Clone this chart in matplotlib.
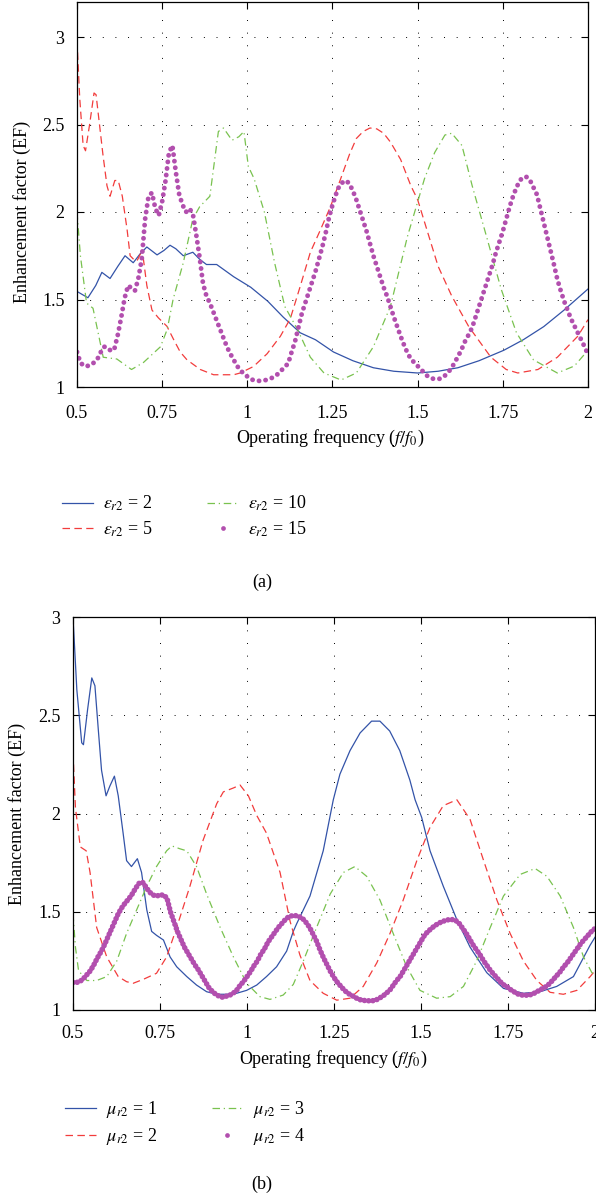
import matplotlib
matplotlib.use('Agg')
import matplotlib.pyplot as plt
from matplotlib.lines import Line2D

plt.rcParams['font.family'] = ['Liberation Serif', 'DejaVu Serif']
plt.rcParams['mathtext.fontset'] = 'stix'

# ---- panel (a): permittivity sweep ----
f_eps2 = [0.5, 0.532, 0.555, 0.573, 0.597, 0.62, 0.641, 0.665, 0.685, 0.705, 0.735, 0.755,
          0.773, 0.79, 0.812, 0.84, 0.86, 0.88, 0.91, 0.96, 1.01, 1.06, 1.105, 1.155, 1.2,
          1.253, 1.31, 1.37, 1.43, 1.5, 1.56, 1.618, 1.68, 1.753, 1.81, 1.87, 1.93, 2.0]
ef_eps2 = [1.546, 1.51, 1.58, 1.655, 1.62, 1.69, 1.75, 1.71, 1.76, 1.80, 1.755, 1.78,
           1.81, 1.79, 1.75, 1.77, 1.73, 1.70, 1.70, 1.63, 1.57, 1.49, 1.40, 1.31, 1.27,
           1.20, 1.15, 1.11, 1.09, 1.08, 1.09, 1.11, 1.15, 1.21, 1.27, 1.345, 1.44, 1.56]

f_eps5 = [0.5, 0.508, 0.518, 0.525, 0.537, 0.55, 0.556, 0.566, 0.576, 0.588, 0.597, 0.611,
          0.621, 0.633, 0.647, 0.656, 0.666, 0.676, 0.686, 0.695, 0.705, 0.72, 0.739, 0.764,
          0.784, 0.803, 0.823, 0.862, 0.901, 0.96, 0.979, 1.018, 1.058, 1.097, 1.126, 1.156,
          1.185, 1.215, 1.244, 1.274, 1.3, 1.32, 1.34, 1.36, 1.38, 1.4, 1.42, 1.45, 1.48,
          1.5, 1.53, 1.56, 1.6, 1.65, 1.715, 1.76, 1.794, 1.853, 1.91, 1.97, 2.0]
ef_eps5 = [2.98, 2.65, 2.38, 2.35, 2.50, 2.68, 2.67, 2.50, 2.33, 2.15, 2.09, 2.18,
           2.18, 2.09, 1.90, 1.75, 1.73, 1.72, 1.76, 1.73, 1.58, 1.44, 1.395, 1.347,
           1.27, 1.20, 1.155, 1.10, 1.07, 1.07, 1.08, 1.117, 1.19, 1.29, 1.39, 1.58,
           1.77, 1.90, 2.03, 2.19, 2.33, 2.42, 2.46, 2.48, 2.475, 2.45, 2.40, 2.30, 2.15,
           2.07, 1.88, 1.69, 1.52, 1.345, 1.17, 1.10, 1.08, 1.10, 1.17, 1.29, 1.385]

f_eps10 = [0.5, 0.51, 0.528, 0.547, 0.577, 0.617, 0.66, 0.695, 0.745, 0.765, 0.782, 0.812,
           0.84, 0.86, 0.89, 0.915, 0.93, 0.955, 0.975, 0.99, 1.003, 1.02, 1.05, 1.08, 1.11,
           1.147, 1.185, 1.225, 1.275, 1.32, 1.37, 1.42, 1.47, 1.52, 1.55, 1.58, 1.60, 1.63,
           1.66, 1.705, 1.745, 1.79, 1.84, 1.91, 1.96, 2.0]
ef_eps10 = [2.0, 1.75, 1.48, 1.45, 1.17, 1.16, 1.10, 1.14, 1.23, 1.33, 1.50, 1.71,
            1.96, 2.03, 2.09, 2.46, 2.48, 2.41, 2.43, 2.46, 2.26, 2.19, 2.0, 1.71, 1.46,
            1.33, 1.17, 1.08, 1.04, 1.08, 1.23, 1.46, 1.86, 2.19, 2.34, 2.44, 2.45, 2.38,
            2.15, 1.84, 1.56, 1.31, 1.155, 1.08, 1.12, 1.21]

f_dots = [round(0.5 + 0.01 * i, 2) for i in range(151)]
ef_eps15 = [1.20, 1.14, 1.12, 1.12, 1.125, 1.14, 1.16, 1.20, 1.23, 1.225,
            1.205, 1.22, 1.30, 1.40, 1.51, 1.58, 1.565, 1.55, 1.62, 1.73,
            1.96, 2.09, 2.11, 2.02, 1.98, 2.06, 2.18, 2.34, 2.38, 2.23,
            2.10, 2.04, 2.00, 2.02, 1.99, 1.87, 1.74, 1.59, 1.52, 1.48,
            1.43, 1.38, 1.33, 1.28, 1.23, 1.19, 1.155, 1.12, 1.095, 1.075,
            1.06, 1.045, 1.038, 1.035, 1.035, 1.038, 1.042, 1.05, 1.06, 1.075,
            1.095, 1.115, 1.135, 1.20, 1.26, 1.34, 1.42, 1.48, 1.54, 1.60,
            1.66, 1.73, 1.80, 1.88, 1.97, 2.04, 2.10, 2.15, 2.17, 2.18,
            2.16, 2.12, 2.07, 2.01, 1.95, 1.89, 1.82, 1.75, 1.69, 1.63,
            1.57, 1.52, 1.46, 1.40, 1.345, 1.29, 1.24, 1.195, 1.16, 1.14,
            1.12, 1.10, 1.08, 1.06, 1.05, 1.045, 1.045, 1.05, 1.065, 1.085,
            1.11, 1.145, 1.18, 1.22, 1.265, 1.30, 1.34, 1.40, 1.46, 1.52,
            1.58, 1.64, 1.70, 1.77, 1.83, 1.89, 1.96, 2.03, 2.09, 2.14,
            2.18, 2.20, 2.20, 2.18, 2.14, 2.10, 2.02, 1.94, 1.86, 1.78,
            1.70, 1.615, 1.55, 1.49, 1.44, 1.39, 1.35, 1.31, 1.27, 1.23,
            1.185]

# ---- panel (b): permeability sweep ----
f_mu1 = [0.5, 0.511, 0.525, 0.53, 0.542, 0.554, 0.563, 0.573, 0.582, 0.595, 0.606, 0.619,
         0.63, 0.644, 0.654, 0.668, 0.685, 0.697, 0.712, 0.726, 0.74, 0.76, 0.779, 0.798,
         0.827, 0.855, 0.884, 0.913, 0.941, 0.97, 0.999, 1.028, 1.056, 1.085, 1.114, 1.133,
         1.143, 1.181, 1.219, 1.248, 1.267, 1.296, 1.325, 1.358, 1.382, 1.41, 1.439, 1.468,
         1.483, 1.502, 1.526, 1.564, 1.603, 1.641, 1.689, 1.737, 1.794, 1.842, 1.89, 1.938,
         1.986, 2.0]
ef_mu1 = [3.0, 2.63, 2.36, 2.35, 2.53, 2.69, 2.65, 2.42, 2.22, 2.09, 2.14, 2.19,
          2.09, 1.90, 1.76, 1.73, 1.77, 1.70, 1.51, 1.40, 1.38, 1.356, 1.27, 1.22,
          1.17, 1.127, 1.093, 1.08, 1.08, 1.085, 1.10, 1.127, 1.17, 1.22, 1.30, 1.40,
          1.44, 1.58, 1.81, 2.07, 2.20, 2.32, 2.41, 2.47, 2.47, 2.42, 2.32, 2.17,
          2.07, 1.98, 1.81, 1.63, 1.46, 1.32, 1.19, 1.11, 1.085, 1.093, 1.12, 1.17,
          1.33, 1.37]

f_mu2 = [0.5, 0.507, 0.521, 0.538, 0.549, 0.568, 0.597, 0.63, 0.654, 0.673, 0.702, 0.74,
         0.769, 0.798, 0.836, 0.874, 0.913, 0.932, 0.961, 0.98, 1.004, 1.028, 1.056, 1.095,
         1.124, 1.152, 1.181, 1.219, 1.258, 1.296, 1.334, 1.373, 1.411, 1.449, 1.488, 1.526,
         1.564, 1.603, 1.641, 1.68, 1.718, 1.756, 1.794, 1.833, 1.871, 1.909, 1.948, 1.986, 2.0]
ef_mu2 = [2.31, 2.03, 1.83, 1.81, 1.70, 1.42, 1.27, 1.17, 1.144, 1.136, 1.156, 1.187,
          1.27, 1.42, 1.63, 1.865, 2.05, 2.11, 2.13, 2.145, 2.09, 1.99, 1.90, 1.70,
          1.45, 1.28, 1.15, 1.085, 1.05, 1.06, 1.12, 1.24, 1.39, 1.56, 1.76, 1.93,
          2.04, 2.07, 1.97, 1.76, 1.56, 1.39, 1.25, 1.15, 1.09, 1.08, 1.10, 1.17, 1.20]

f_mu3 = [0.5, 0.507, 0.516, 0.54, 0.568, 0.597, 0.626, 0.654, 0.683, 0.712, 0.74, 0.769,
         0.784, 0.808, 0.827, 0.855, 0.884, 0.923, 0.961, 0.999, 1.037, 1.066, 1.104, 1.133,
         1.162, 1.2, 1.239, 1.277, 1.31, 1.344, 1.382, 1.42, 1.459, 1.497, 1.545, 1.584,
         1.622, 1.66, 1.699, 1.737, 1.785, 1.828, 1.862, 1.9, 1.938, 1.967, 1.991, 2.0]
ef_mu3 = [1.49, 1.32, 1.20, 1.15, 1.15, 1.17, 1.25, 1.39, 1.51, 1.63, 1.73, 1.81,
          1.835, 1.82, 1.81, 1.73, 1.59, 1.42, 1.27, 1.136, 1.068, 1.054, 1.076, 1.13,
          1.25, 1.42, 1.59, 1.70, 1.73, 1.68, 1.56, 1.39, 1.22, 1.10, 1.06, 1.068,
          1.12, 1.25, 1.42, 1.58, 1.69, 1.72, 1.68, 1.58, 1.42, 1.27, 1.19, 1.18]

ef_mu4 = [1.14, 1.14, 1.145, 1.16, 1.18, 1.20, 1.23, 1.265, 1.295, 1.33,
          1.37, 1.41, 1.45, 1.49, 1.52, 1.545, 1.565, 1.59, 1.62, 1.645,
          1.65, 1.625, 1.60, 1.585, 1.58, 1.585, 1.585, 1.57, 1.50, 1.45,
          1.40, 1.36, 1.32, 1.29, 1.26, 1.23, 1.205, 1.175, 1.145, 1.115,
          1.095, 1.08, 1.07, 1.065, 1.07, 1.075, 1.085, 1.10, 1.125, 1.145,
          1.17, 1.195, 1.225, 1.25, 1.285, 1.31, 1.345, 1.37, 1.395, 1.42,
          1.44, 1.46, 1.475, 1.48, 1.48, 1.475, 1.465, 1.445, 1.42, 1.385,
          1.35, 1.305, 1.265, 1.23, 1.195, 1.165, 1.14, 1.12, 1.10, 1.085,
          1.075, 1.065, 1.055, 1.05, 1.048, 1.047, 1.047, 1.05, 1.06, 1.07,
          1.085, 1.10, 1.125, 1.15, 1.17, 1.20, 1.23, 1.26, 1.29, 1.32,
          1.35, 1.38, 1.40, 1.415, 1.43, 1.44, 1.45, 1.455, 1.46, 1.46,
          1.455, 1.44, 1.415, 1.39, 1.36, 1.33, 1.305, 1.28, 1.25, 1.225,
          1.20, 1.18, 1.16, 1.14, 1.125, 1.115, 1.10, 1.09, 1.08, 1.076,
          1.075, 1.076, 1.08, 1.09, 1.10, 1.11, 1.12, 1.135, 1.155, 1.175,
          1.195, 1.22, 1.24, 1.265, 1.29, 1.315, 1.34, 1.36, 1.38, 1.40,
          1.415]

xticks = [0.5, 0.75, 1, 1.25, 1.5, 1.75, 2]
xticklabels = ['0.5', '0.75', '1', '1.25', '1.5', '1.75', '2']
yticks = [1, 1.5, 2, 2.5, 3]
yticklabels = ['1', '1.5', '2', '2.5', '3']

BLUE = '#3353a8'
RED = '#f23c3c'
GREEN = '#79c24f'
MAG = '#b24fae'
FS = 13

fig = plt.figure(figsize=(5.96, 12), dpi=100)
ax1 = fig.add_axes([77 / 596, 1 - 387 / 1200, 511 / 596, 385 / 1200])
ax2 = fig.add_axes([73 / 596, 1 - 1010 / 1200, 522 / 596, 393 / 1200])


def style(ax, ytop, xpad):
    ax.set_xlim(0.5, 2)
    ax.set_ylim(1, ytop)
    ax.set_xticks(xticks)
    ax.set_xticklabels(xticklabels)
    ax.set_yticks(yticks)
    ax.set_yticklabels(yticklabels)
    ax.grid(True, color='k', linestyle=(0, (1, 12)), linewidth=0.7)
    ax.tick_params(direction='in', top=True, right=True, length=5, width=0.8,
                   labelsize=FS, pad=9)
    ax.tick_params(axis='x', pad=xpad)
    for s in ax.spines.values():
        s.set_linewidth(0.9)
    ax.set_ylabel('Enhancement factor (EF)', fontsize=FS)
    ax.set_xlabel('Operating frequency ($f/f_0$)', fontsize=FS)


def draw(ax, series, dot_w, gap):
    handles = []
    for fx, fy, kind, col, lab in series:
        if kind == 'solid':
            h, = ax.plot(fx, fy, color=col, lw=0.9, label=lab)
        elif kind == 'dash':
            h, = ax.plot(fx, fy, color=col, lw=0.9, dashes=(6, 3.5), label=lab)
        elif kind == 'dashdot':
            h, = ax.plot(fx, fy, color=col, lw=0.9, dashes=(6, 3, 1, 3), label=lab)
        else:
            # densely dotted trace: round-capped dots along the sampled curve
            ax.plot(fx, fy, color=col, lw=dot_w, dashes=(0.01, gap),
                    dash_capstyle='round', solid_capstyle='round')
            h = Line2D([], [], linestyle='none', marker='o', ms=3.4, mec='none',
                       color=col, label=lab)
        handles.append(h)
    return handles


h1 = draw(ax1, [
    (f_eps2, ef_eps2, 'solid', BLUE, r'$\varepsilon_{r2}$ = 2'),
    (f_eps5, ef_eps5, 'dash', RED, r'$\varepsilon_{r2}$ = 5'),
    (f_eps10, ef_eps10, 'dashdot', GREEN, r'$\varepsilon_{r2}$ = 10'),
    (f_dots, ef_eps15, 'dots', MAG, r'$\varepsilon_{r2}$ = 15'),
], 3.5, 1.35)
h2 = draw(ax2, [
    (f_mu1, ef_mu1, 'solid', BLUE, r'$\mu_{r2}$ = 1'),
    (f_mu2, ef_mu2, 'dash', RED, r'$\mu_{r2}$ = 2'),
    (f_mu3, ef_mu3, 'dashdot', GREEN, r'$\mu_{r2}$ = 3'),
    (f_dots, ef_mu4, 'dots', MAG, r'$\mu_{r2}$ = 4'),
], 4.0, 0.75)

style(ax1, 3.2, 13)
style(ax2, 3.0, 11)
ax1.yaxis.set_label_coords(-0.090, 1 / 2.2)
ax1.xaxis.set_label_coords(0.495, -0.105)
ax2.yaxis.set_label_coords(-0.090, 0.5)
ax2.xaxis.set_label_coords(0.498, -0.1)

for hs, x0, ytop in [(h1, 62 / 596, 1 - 494 / 1200), (h2, 65 / 596, 1 - 1099 / 1200)]:
    fig.legend(handles=hs, ncol=2, loc='upper left', bbox_to_anchor=(x0, ytop),
               frameon=False, fontsize=FS, handlelength=1.7, handletextpad=0.55,
               columnspacing=3.05, labelspacing=0.35, borderpad=0, borderaxespad=0,
               numpoints=1)

fig.text(262 / 596, 1 - 582 / 1200, '(a)', ha='center', va='center', fontsize=FS)
fig.text(262 / 596, 1 - 1184 / 1200, '(b)', ha='center', va='center', fontsize=FS)

fig.savefig('out.png', dpi=100)
